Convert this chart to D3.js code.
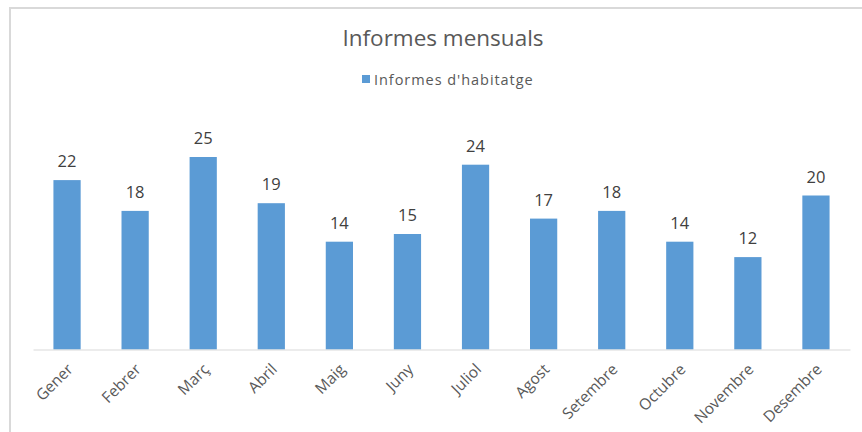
<!DOCTYPE html>
<html>
<head>
<meta charset="UTF-8">
<title>Informes mensuals</title>
<script src="https://cdnjs.cloudflare.com/ajax/libs/d3/7.8.5/d3.min.js"></script>
<style>
  body { margin: 0; background: #fff; }
  text { font-family: "Open Sans", "DejaVu Sans", sans-serif; }
</style>
</head>
<body>
<div id="chart"></div>
<script>
var months = ["Gener", "Febrer", "Març", "Abril", "Maig", "Juny", "Juliol",
              "Agost", "Setembre", "Octubre", "Novembre", "Desembre"];
var informes = [22, 18, 25, 19, 14, 15, 24, 17, 18, 14, 12, 20];
var seriesName = "Informes d'habitatge";
var chartTitle = "Informes mensuals";

var w = 862, h = 432;
var plotLeft = 33, plotRight = 850, base = 349.5, plotTop = 118.5;

var svg = d3.select("#chart").append("svg")
    .attr("width", w)
    .attr("height", h);

// chart frame
svg.append("rect")
    .attr("x", 10).attr("y", 8)
    .attr("width", 880).attr("height", 460)
    .attr("fill", "none")
    .attr("stroke", "#d9d9d9")
    .attr("stroke-width", 2);

var x = d3.scaleBand().domain(months).range([plotLeft, plotRight]).paddingInner(0.6).paddingOuter(0.3);
var y = d3.scaleLinear().domain([0, 30]).range([base, plotTop]);

svg.append("text")
    .attr("x", 443).attr("y", 46)
    .attr("text-anchor", "middle")
    .attr("font-size", 22.5)
    .attr("fill", "#595959")
    .text(chartTitle);

// legend
svg.append("rect")
    .attr("x", 362).attr("y", 75)
    .attr("width", 8).attr("height", 8)
    .attr("fill", "#5b9bd5");
svg.append("text")
    .attr("x", 374).attr("y", 85)
    .attr("font-size", 14.5)
    .attr("letter-spacing", 0.95)
    .attr("fill", "#595959")
    .text(seriesName);

svg.selectAll(".bar")
    .data(informes)
    .enter().append("rect")
    .attr("class", "bar")
    .attr("x", function(d, i){ return x(months[i]); })
    .attr("y", function(d){ return y(d); })
    .attr("width", x.bandwidth())
    .attr("height", function(d){ return y(0) - y(d); })
    .attr("fill", "#5b9bd5");

svg.selectAll(".val")
    .data(informes)
    .enter().append("text")
    .attr("class", "val")
    .attr("x", function(d, i){ return x(months[i]) + x.bandwidth() / 2; })
    .attr("y", function(d){ return y(d) - 13; })
    .attr("text-anchor", "middle")
    .attr("font-size", 16.5)
    .attr("fill", "#404040")
    .text(function(d){ return d; });

var xAxis = svg.append("g")
    .attr("transform", "translate(0," + base + ")")
    .call(d3.axisBottom(x).tickSize(0).tickPadding(0));
xAxis.select(".domain").attr("stroke", "#d9d9d9").attr("stroke-width", 1);
xAxis.selectAll("text")
    .attr("font-size", 15.5)
    .attr("fill", "#595959")
    .attr("text-anchor", "end")
    .attr("dy", "0.35em")
    .attr("transform", "translate(3,17) rotate(-45)");
</script>
</body>
</html>
